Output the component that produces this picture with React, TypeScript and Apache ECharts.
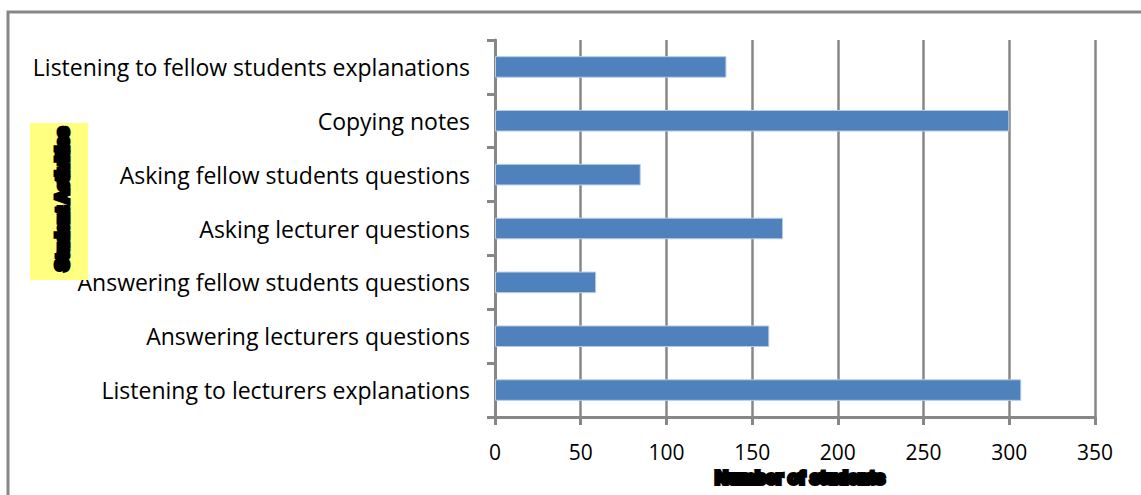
import React, { useEffect, useRef } from "react";
import * as echarts from "echarts";

const categories = [
  "Listening to fellow students explanations",
  "Copying notes",
  "Asking fellow students questions",
  "Asking lecturer questions",
  "Answering fellow students questions",
  "Answering lecturers questions",
  "Listening to lecturers explanations",
];
const studentCounts = [135, 300, 85, 168, 59, 160, 307];
const xTicks = { min: 0, max: 350, interval: 50 };
const xTitle = "Number of students";
const yTitle = "Student Activities";

export default function App() {
  const ref = useRef<HTMLDivElement>(null);
  useEffect(() => {
    document.body.style.margin = "0";
    const chart = echarts.init(ref.current!, null, { renderer: "svg" });
    const font = "'Open Sans', sans-serif";
    const gray = "#878787";
    chart.setOption({
      animation: false,
      backgroundColor: "#ffffff",
      grid: { left: 495, right: 46, top: 40, bottom: 78, containLabel: false },
      xAxis: {
        type: "value",
        min: xTicks.min,
        max: xTicks.max,
        interval: xTicks.interval,
        axisLine: { show: true, lineStyle: { color: gray, width: 3 } },
        axisTick: { show: true, length: 8, lineStyle: { color: gray, width: 3 } },
        splitLine: { show: true, lineStyle: { color: gray, width: 2.5 } },
        axisLabel: { color: "#000", fontFamily: font, fontSize: 21, margin: 24 },
      },
      yAxis: {
        type: "category",
        data: categories,
        inverse: true,
        axisLine: { show: true, lineStyle: { color: gray, width: 3 } },
        axisTick: { show: true, length: 8, lineStyle: { color: gray, width: 3 } },
        splitLine: { show: false },
        axisLabel: { color: "#000", fontFamily: font, fontSize: 23, margin: 25 },
      },
      series: [
        {
          type: "bar",
          data: studentCounts,
          barWidth: "40%",
          itemStyle: { color: "#4F81BD", borderColor: "#B8CCE4", borderWidth: 1 },
          z: 3,
        },
      ],
      graphic: [
        {
          type: "rect",
          shape: { x: 8, y: 12, width: 1400, height: 800 },
          style: { fill: "none", stroke: gray, lineWidth: 3 },
          silent: true,
          z: 10,
        },
        {
          type: "rect",
          shape: { x: 30, y: 123, width: 58, height: 157 },
          style: { fill: "#FFFF80" },
          z: 10,
        },
        {
          type: "text",
          x: 62,
          y: 199,
          rotation: Math.PI / 2,
          style: {
            text: yTitle,
            fontFamily: "'Liberation Sans', Arial, sans-serif",
            fontWeight: "bold",
            fontSize: 17,
            fill: "#000",
            stroke: "#000",
            lineWidth: 5,
            align: "center",
            verticalAlign: "middle",
          },
          z: 11,
        },
        {
          type: "text",
          x: 800,
          y: 478,
          style: {
            text: xTitle,
            fontFamily: "'Liberation Sans', Arial, sans-serif",
            fontWeight: "bold",
            fontSize: 18,
            fill: "#000",
            stroke: "#000",
            lineWidth: 4,
            align: "center",
            verticalAlign: "middle",
          },
          z: 11,
        },
      ],
    });
    return () => chart.dispose();
  }, []);
  return <div ref={ref} style={{ width: 1141, height: 495 }} />;
}
